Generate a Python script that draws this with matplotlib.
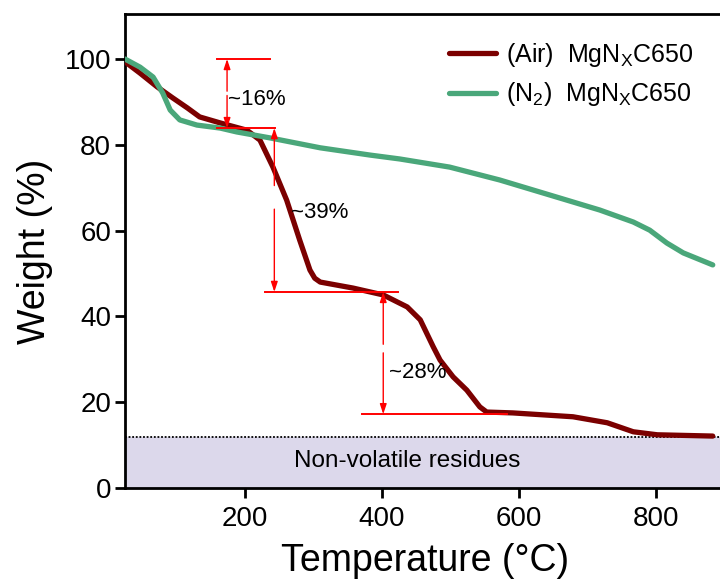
import numpy as np
import matplotlib
matplotlib.use("Agg")
import matplotlib.pyplot as plt

plt.rcParams['font.family'] = ['Liberation Sans', 'DejaVu Sans']
plt.rcParams['mathtext.fontset'] = 'custom'
plt.rcParams['mathtext.rm'] = 'Liberation Sans'
plt.rcParams['mathtext.it'] = 'Liberation Sans:italic'

# TGA curves
temp_air = [25, 28, 47, 72, 95, 116, 134, 164, 203, 222, 241, 261, 280, 295, 302, 310,
            358, 402, 437, 456, 475, 485, 504, 524, 543, 553, 591, 679, 729, 767, 802, 883]
w_air = [99.6, 99.0, 96.7, 93.5, 90.9, 88.6, 86.5, 85.1, 83.4, 81.1, 74.8, 67.1, 57.8, 50.8, 48.9, 48.0,
         46.6, 45.0, 42.2, 39.2, 32.9, 29.8, 25.9, 22.8, 18.9, 17.7, 17.5, 16.6, 15.2, 13.1, 12.4, 12.1]

temp_n2 = [25, 47, 66, 80, 91, 105, 130, 164, 188, 237, 310, 383, 426, 499, 572,
           645, 718, 767, 791, 816, 840, 883]
w_n2 = [100.0, 98.1, 95.8, 92.1, 88.1, 85.8, 84.6, 83.9, 83.0, 81.6, 79.3, 77.6, 76.7, 74.8, 71.8,
        68.3, 64.8, 62.0, 60.1, 57.1, 54.8, 52.0]

labels = [r'(Air)  MgN$_{\mathrm{X}}$C650', r'(N$_{2}$)  MgN$_{\mathrm{X}}$C650']
residue_level = 11.9
steps = ['~16%', '~39%', '~28%']

fig = plt.figure(figsize=(7.2, 5.87), dpi=100)
ax = fig.add_axes([0.1736, 0.1687, 0.8325, 0.8075])

ax.axhspan(0, residue_level, color='#dcd8eb', zorder=0)
ax.axhline(residue_level, color='black', ls=(0, (1, 1)), lw=1.3, zorder=1)
ax.text(437, 6.3, 'Non-volatile residues', fontsize=17.5, ha='center', va='center')

ax.plot(temp_air, w_air, color='#7b0000', lw=3.8, label=labels[0], zorder=3,
        solid_capstyle='round', solid_joinstyle='round')
ax.plot(temp_n2, w_n2, color='#4aa77a', lw=3.8, label=labels[1], zorder=4,
        solid_capstyle='round', solid_joinstyle='round')

red = '#ff0000'
# horizontal guide lines
ax.plot([159, 237], [100, 100], color=red, lw=1.4, zorder=5)
ax.plot([159, 244], [83.9, 83.9], color=red, lw=1.4, zorder=5)
ax.plot([230, 424], [45.7, 45.7], color=red, lw=1.4, zorder=5)
ax.plot([371, 583], [17.2, 17.2], color=red, lw=1.4, zorder=5)

def arrow(x, top, bot, gap_top, gap_bot):
    kw = dict(arrowstyle='-|>,head_length=0.6,head_width=0.2', color=red, lw=1.0,
              shrinkA=0, shrinkB=0)
    ax.annotate('', xy=(x, top), xytext=(x, gap_top), arrowprops=kw, zorder=5)
    ax.annotate('', xy=(x, bot), xytext=(x, gap_bot), arrowprops=kw, zorder=5)

arrow(174, 100, 83.9, 92.5, 91.5)
arrow(243, 83.9, 45.7, 70.5, 65.0)
arrow(402, 45.7, 17.2, 33.5, 31.5)

ax.text(175, 90.5, steps[0], fontsize=16, ha='left', va='center')
ax.text(268, 64.2, steps[1], fontsize=16, ha='left', va='center')
ax.text(410, 27.0, steps[2], fontsize=16, ha='left', va='center')

ax.set_xlim(25, 900)
ax.set_ylim(0, 110.5)
ax.set_xticks([200, 400, 600, 800])
ax.set_yticks([0, 20, 40, 60, 80, 100])
ax.tick_params(direction='out', length=7, width=2, labelsize=20, pad=3)
ax.tick_params(axis='x', pad=6)
for s in ax.spines.values():
    s.set_linewidth(2)
ax.spines['right'].set_visible(False)

ax.set_xlabel('Temperature (°C)', fontsize=27, labelpad=8)
ax.set_ylabel('Weight (%)', fontsize=27, labelpad=8)

ax.legend(loc='upper left', bbox_to_anchor=(0.503, 0.99), frameon=False, fontsize=18,
          handlelength=1.9, handletextpad=0.4, labelspacing=0.45)

fig.savefig('out.png', dpi=100)
